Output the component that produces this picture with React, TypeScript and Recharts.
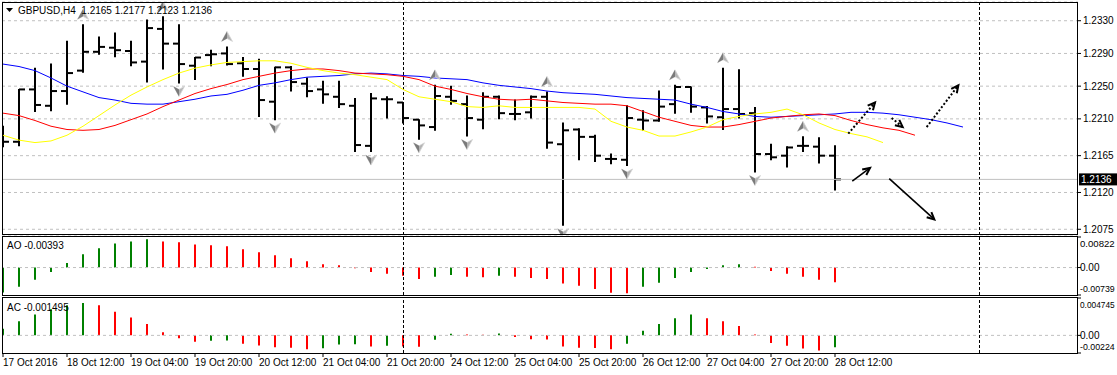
import React from 'react';
import {
  ComposedChart,
  Bar,
  Line,
  Scatter,
  XAxis,
  YAxis,
  ReferenceLine,
  CartesianGrid,
  Cell,
} from 'recharts';

const FONT = '"Liberation Sans", Arial, sans-serif';
const W = 1117;

const symbol = 'GBPUSD';
const timeframe = 'H4';

// ---------- price bars (index 0 = 17 Oct 2016 20:00, H4) ----------
const opens = [
  1.2182, 1.2182, 1.2246, 1.2226, 1.2244, 1.2269, 1.2292, 1.2297, 1.2293, 1.228,
  1.232, 1.2302, 1.2275, 1.2288, 1.229, 1.2278, 1.2271, 1.2231, 1.2273, 1.2253,
  1.2246, 1.2237, 1.2226, 1.2177, 1.2234, 1.223, 1.2209, 1.22, 1.2237, 1.2228,
  1.2209, 1.2237, 1.2216, 1.2218, 1.2237, 1.2179, 1.2197, 1.2188, 1.2161, 1.216,
  1.2209, 1.2208, 1.2228, 1.2249, 1.2224, 1.2212, 1.2222, 1.2217, 1.2167, 1.2165,
  1.2177, 1.2176, 1.2165,
];
const highs = [
  1.2201, 1.2246, 1.2272, 1.2277, 1.2305, 1.2325, 1.231, 1.2315, 1.2305, 1.2331,
  1.2335, 1.2325, 1.2285, 1.2294, 1.2298, 1.2285, 1.2283, 1.2273, 1.2274, 1.226,
  1.2256, 1.2256, 1.2235, 1.2241, 1.2237, 1.223, 1.2209, 1.2251, 1.225, 1.2238,
  1.2242, 1.2238, 1.2233, 1.2238, 1.2243, 1.2205, 1.2198, 1.219, 1.2167, 1.2226,
  1.222, 1.2244, 1.2251, 1.2249, 1.2225, 1.2272, 1.227, 1.2224, 1.2179, 1.2176,
  1.2188, 1.2187, 1.2177,
];
const lows = [
  1.2176, 1.2177, 1.2219, 1.222, 1.2228, 1.2267, 1.2289, 1.2286, 1.2275, 1.2255,
  1.2271, 1.2254, 1.2258, 1.2275, 1.2276, 1.2262, 1.2213, 1.2209, 1.2244, 1.2237,
  1.2229, 1.2224, 1.217, 1.217, 1.2211, 1.2205, 1.2185, 1.2196, 1.2228, 1.2189,
  1.2198, 1.221, 1.2209, 1.2211, 1.2174, 1.208, 1.216, 1.2158, 1.2155, 1.2153,
  1.2196, 1.2207, 1.2217, 1.2218, 1.2205, 1.2197, 1.2211, 1.2145, 1.216, 1.2151,
  1.217, 1.2156, 1.2123,
];
const closes = [
  1.2182, 1.2246, 1.2227, 1.2244, 1.2266, 1.2292, 1.2298, 1.2294, 1.2279, 1.2321,
  1.2302, 1.2277, 1.2285, 1.2289, 1.2277, 1.2271, 1.2233, 1.2273, 1.2255, 1.2244,
  1.224, 1.2228, 1.2178, 1.2235, 1.2234, 1.2211, 1.2202, 1.2238, 1.2232, 1.2211,
  1.2237, 1.2217, 1.2216, 1.2237, 1.2181, 1.2196, 1.2188, 1.2165, 1.2161, 1.2211,
  1.2208, 1.2225, 1.2249, 1.2225, 1.2213, 1.2222, 1.2216, 1.2167, 1.2163, 1.2175,
  1.2177, 1.2165, 1.2136,
];

// ---------- Alligator (shifted forward) ----------
const jaw = [
  1.2277, 1.2274, 1.2269, 1.226, 1.225, 1.2243, 1.2236, 1.2233, 1.2229, 1.2228,
  1.2228, 1.2231, 1.2234, 1.2238, 1.224, 1.2245, 1.2251, 1.2254, 1.2258, 1.2261,
  1.2262, 1.2263, 1.2265, 1.2266, 1.2265, 1.2263, 1.2262, 1.226, 1.2259, 1.2258,
  1.2254, 1.2251, 1.2249, 1.2247, 1.2244, 1.2242, 1.2241, 1.224, 1.2238, 1.2236,
  1.2235, 1.2234, 1.2233, 1.2228, 1.2224, 1.2219, 1.2216, 1.2213, 1.2212, 1.2213,
  1.2214, 1.2215, 1.2216, 1.2218, 1.2218, 1.2217, 1.2215, 1.2212, 1.2209, 1.2205,
  1.22,
];
const teeth = [
  1.2217, 1.2214, 1.2208, 1.2201, 1.2197, 1.2196, 1.2197, 1.2202, 1.2209, 1.2216,
  1.2225, 1.2233, 1.2241, 1.2247, 1.2252, 1.2258, 1.2262, 1.2266, 1.2269, 1.2271,
  1.2271, 1.2269, 1.2266, 1.2265, 1.2264, 1.2262, 1.2258, 1.225, 1.2246, 1.2241,
  1.2237, 1.2234, 1.2233, 1.2234, 1.2232, 1.223, 1.2229, 1.2228, 1.2228, 1.2226,
  1.2219, 1.2212, 1.2207, 1.2202, 1.22, 1.22, 1.2203, 1.2207, 1.2211, 1.2213,
  1.2215, 1.2216, 1.2214, 1.2208, 1.2203, 1.2199, 1.2196, 1.219,
];
const lips = [
  1.219, 1.2184, 1.2181, 1.2183, 1.219, 1.2201, 1.2214, 1.2227, 1.2239, 1.2249,
  1.2258, 1.2266, 1.2272, 1.2276, 1.2279, 1.228, 1.2281, 1.2281, 1.2278, 1.2273,
  1.2269, 1.2266, 1.2264, 1.2261, 1.2258, 1.2246, 1.2237, 1.2234, 1.2231, 1.2225,
  1.2224, 1.2226, 1.2224, 1.2224, 1.2224, 1.2224, 1.2224, 1.2222, 1.2207, 1.22,
  1.2196, 1.2189, 1.2189, 1.2194, 1.22, 1.2209, 1.2213, 1.2216, 1.2218, 1.2222,
  1.2215, 1.2205, 1.2197, 1.2192, 1.2188, 1.2181,
];

// ---------- Fractals (bar indices) ----------
const fractalUp = [5, 10, 14, 27, 34, 42, 45, 50];
const fractalDown = [11, 17, 23, 26, 29, 35, 39, 47];

// ---------- hand drawn arrows (bar index, price) ----------
const arrowFromIdx = [52.83, 55.54, 57.73, 53.08, 55.39];
const arrowFromPrice = [1.2192, 1.2211, 1.22, 1.2134, 1.2137];
const arrowToIdx = [54.5, 56.23, 59.71, 54.19, 58.21];
const arrowToPrice = [1.223, 1.22, 1.2251, 1.215, 1.2087];
const arrowDotted = [true, true, true, false, false];

// ---------- oscillators ----------
const aoValues = [
  -0.0067, -0.0052, -0.0033, -0.0012, 0.0012, 0.0036, 0.0052, 0.0065, 0.007, 0.0076,
  0.007, 0.0068, 0.0062, 0.006, 0.0057, 0.0049, 0.0041, 0.0033, 0.0025, 0.0017,
  0.0009, 0.0006, -0.0002, -0.0012, -0.0017, -0.0022, -0.0031, -0.0025, -0.002, -0.0025,
  -0.0026, -0.0022, -0.0025, -0.0028, -0.0031, -0.0043, -0.0049, -0.0058, -0.0068, -0.0069,
  -0.0052, -0.0041, -0.0028, -0.0012, -0.0004, 0.0006, 0.0009, 0.0002, -0.0009, -0.0017,
  -0.0025, -0.0033, -0.00393,
];
const acValues = [
  0.00084, 0.0018, 0.00264, 0.00332, 0.00384, 0.00412, 0.00384, 0.003, 0.00228, 0.00144,
  0.0004, -0.00036, -0.0008, -0.00068, -0.00064, -0.00108, -0.00128, -0.00152, -0.00156, -0.00176,
  -0.00164, -0.00116, -0.00112, -0.0014, -0.00132, -0.0014, -0.00144, -0.00056, 0.0002, 0.0001,
  0.00008, 0.00024, -0.0002, -0.00048, -0.00052, -0.0014, -0.00156, -0.0016, -0.00176, -0.00108,
  0.0006, 0.00144, 0.00216, 0.00264, 0.00216, 0.0018, 0.0012, 0.00012, -0.00096, -0.00132,
  -0.00168, -0.00192, -0.001495,
];

// ---------- axes ----------
const priceTicks = [1.2075, 1.212, 1.2165, 1.221, 1.225, 1.229, 1.233];
const priceDomain: [number, number] = [1.2068, 1.23529];
const aoTicks = [0.00822, 0, -0.00739];
const aoTickLabels = ['0.00822', '0.00', '-0.00739'];
const acTicks = [0.004745, 0, -0.00224];
const acTickLabels = ['0.004745', '0.00', '-0.00224'];
const xTickIndex = [0, 4, 8, 12, 16, 20, 24, 28, 32, 36, 40, 44, 48, 52];
const xTickLabels = [
  '17 Oct 2016', '18 Oct 12:00', '19 Oct 04:00', '19 Oct 20:00', '20 Oct 12:00',
  '21 Oct 04:00', '21 Oct 20:00', '24 Oct 12:00', '25 Oct 04:00', '25 Oct 20:00',
  '26 Oct 12:00', '27 Oct 04:00', '27 Oct 20:00', '28 Oct 12:00',
];
const gridIndex = [
  2, 4, 6, 8, 10, 12, 14, 16, 18, 20, 22, 24, 26, 28, 30, 32, 34, 36, 38, 40, 42,
  44, 46, 48, 50, 52, 54, 56, 58, 60, 62, 64, 66,
];
const separatorIndex = [25, 61];
const xDomain: [number, number] = [-0.0625, 67.1875];

// ---------- derived tables ----------
const nBars = closes.length;
const lastClose = closes[nBars - 1];

const mainRows = jaw.map((j, i) => ({
  i,
  hl: i < nBars ? [lows[i], highs[i]] : null,
  open: i < nBars ? opens[i] : null,
  high: i < nBars ? highs[i] : null,
  low: i < nBars ? lows[i] : null,
  close: i < nBars ? closes[i] : null,
  jaw: j,
  teeth: i < teeth.length ? teeth[i] : null,
  lips: i < lips.length ? lips[i] : null,
}));

const fractalRows = [
  ...fractalUp.map((i) => ({ i, v: highs[i], dir: 1 })),
  ...fractalDown.map((i) => ({ i, v: lows[i], dir: -1 })),
];

const histColor = (arr: number[], i: number) =>
  i === 0 || arr[i] >= arr[i - 1] ? '#008000' : '#ff0000';

const aoRows = aoValues.map((v, i) => ({ i, v, color: histColor(aoValues, i) }));
const acRows = acValues.map((v, i) => ({ i, v, color: histColor(acValues, i) }));

// approximate text width at 10px Liberation Sans
const textWidth = (s: string) =>
  s.split('').reduce((w, ch) => w + (ch === '.' ? 2.78 : ch === '-' ? 3.33 : 5.56), 0);

// ---------- shapes ----------
const OhlcShape = (props: any) => {
  const { x, y, width, height, payload } = props;
  if (!payload || payload.close == null || x == null || y == null) return <g />;
  const cx = x + width / 2;
  const top = Math.min(y, y + height);
  const bot = Math.max(y, y + height);
  const span = payload.high - payload.low || 1;
  const yOf = (v: number) => top + ((payload.high - v) / span) * (bot - top);
  const yo = yOf(payload.open);
  const yc = yOf(payload.close);
  return (
    <g stroke="#000" strokeWidth={2}>
      <line x1={cx} x2={cx} y1={top - 0.5} y2={bot + 0.5} />
      <line x1={cx - 6} x2={cx} y1={yo} y2={yo} />
      <line x1={cx} x2={cx + 6} y1={yc} y2={yc} />
    </g>
  );
};

const FractalShape = (props: any) => {
  const { cx, cy, payload } = props;
  if (cx == null || cy == null) return <g />;
  const up = payload.dir > 0;
  const c = up ? cy - 10 : cy + 8;
  const s = up ? 1 : -1;
  const d = `M${cx},${c - 5.5 * s} L${cx + 5.5},${c + 4.5 * s} L${cx},${c + 1.5 * s} L${cx - 5.5},${c + 4.5 * s} Z`;
  const dl = `M${cx},${c - 5.5 * s} L${cx},${c + 1.5 * s} L${cx - 5.5},${c + 4.5 * s} Z`;
  return (
    <g>
      <path d={d} fill="#b4b4b4" stroke="#d4d4d4" strokeWidth={0.8} />
      <path d={dl} fill="#7a7a7a" />
    </g>
  );
};

const makeArrowShape = (dotted: boolean) => (p: any) => {
  const { x1, y1, x2, y2 } = p;
  if ([x1, y1, x2, y2].some((v) => v == null || Number.isNaN(v))) return <g />;
  const a = Math.atan2(y2 - y1, x2 - x1);
  const L = 8;
  const h = 0.45;
  const ax = x2 - L * Math.cos(a - h);
  const ay = y2 - L * Math.sin(a - h);
  const bx = x2 - L * Math.cos(a + h);
  const by = y2 - L * Math.sin(a + h);
  return (
    <g stroke="#000" fill="none">
      <line
        x1={x1}
        y1={y1}
        x2={x2}
        y2={y2}
        strokeWidth={dotted ? 2 : 1.6}
        strokeDasharray={dotted ? '2 2' : undefined}
      />
      <polyline points={`${ax},${ay} ${x2},${y2} ${bx},${by}`} strokeWidth={2} />
    </g>
  );
};

const vLineShape = (color: string, dash: string) => (p: any) => {
  const { x1, y1, x2, y2 } = p;
  if (x1 == null) return <g />;
  return (
    <line
      x1={x1 + 0.5}
      x2={x2 + 0.5}
      y1={y1}
      y2={y2}
      stroke={color}
      strokeWidth={1}
      strokeDasharray={dash}
    />
  );
};

const PriceLabel = (props: any) => {
  const vb = props.viewBox || {};
  if (vb.x == null) return <g />;
  const x = vb.x + vb.width + 1;
  const y = vb.y;
  return (
    <g>
      <rect x={x} y={y - 6} width={38} height={12} fill="#000" />
      <text x={x + 2} y={y} dy="0.35em" fill="#fff" fontSize={10} fontFamily={FONT}>
        {lastClose.toFixed(4)}
      </text>
    </g>
  );
};

const makeYTick = (ticks: number[], labels: string[], offsets: number[]) => (props: any) => {
  const { x, y, payload } = props;
  const k = ticks.indexOf(payload.value);
  if (k < 0) return <g />;
  const label = labels[k];
  const room = W - 2 - x;
  const fs = Math.min(10, Math.floor((10 * room * 10) / textWidth(label)) / 10);
  return (
    <text
      x={x}
      y={y + offsets[k]}
      dy="0.35em"
      fontSize={fs}
      fill="#000"
      fontFamily={FONT}
      textAnchor="start"
    >
      {label}
    </text>
  );
};
const AoTick = makeYTick(aoTicks, aoTickLabels, [7, 0, -6]);
const AcTick = makeYTick(acTicks, acTickLabels, [7, 0, -6]);

const XTick = (props: any) => {
  const { x, y, payload } = props;
  const k = xTickIndex.indexOf(payload.value);
  if (k < 0) return <g />;
  return (
    <text x={x} y={y + 9} textAnchor="start" fontSize={10} fill="#000" fontFamily={FONT}>
      {xTickLabels[k]}
    </text>
  );
};

const vGen = (props: any) => {
  const sc = props?.xAxis?.scale;
  if (typeof sc !== 'function') return [];
  return gridIndex.map((i) => sc(i) + 0.5);
};

const panelBorder = (top: number, height: number): React.CSSProperties => ({
  position: 'absolute',
  left: 2,
  top,
  width: 1076,
  height,
  border: '1px solid #000',
  boxSizing: 'border-box',
  pointerEvents: 'none',
  zIndex: 5,
});

const separators = (key: string) =>
  separatorIndex.map((i) => (
    <ReferenceLine
      key={`${key}-sep-${i}`}
      x={i}
      ifOverflow="visible"
      shape={vLineShape('#000', '3 2')}
    />
  ));

const labelStyle = (left: number, top: number): React.CSSProperties => ({
  position: 'absolute',
  left,
  top,
  fontSize: 10,
  lineHeight: '12px',
  whiteSpace: 'pre',
  color: '#000',
  zIndex: 6,
});

export default function App() {
  const titleText = `${symbol},${timeframe}  ${opens[nBars - 1].toFixed(4)} ${highs[nBars - 1].toFixed(4)} ${lows[nBars - 1].toFixed(4)} ${closes[nBars - 1].toFixed(4)}`;
  return (
    <div
      style={{
        position: 'absolute',
        left: 0,
        top: 0,
        width: W,
        height: 375,
        background: '#fff',
        overflow: 'hidden',
        fontFamily: FONT,
      }}
    >
      {/* main price panel */}
      <div style={{ position: 'absolute', left: 0, top: 0 }}>
        <ComposedChart
          width={W}
          height={236}
          data={mainRows}
          margin={{ top: 2, right: 0, bottom: 1, left: 2 }}
        >
          <CartesianGrid
            stroke="#c0c0c0"
            strokeDasharray="3 3"
            verticalCoordinatesGenerator={vGen}
          />
          <XAxis dataKey="i" type="number" domain={xDomain} hide allowDataOverflow ticks={gridIndex} />
          <YAxis
            orientation="right"
            width={39}
            domain={priceDomain}
            allowDataOverflow
            ticks={priceTicks}
            interval={0}
            axisLine={false}
            tickSize={3}
            tickMargin={2}
            tickLine={{ stroke: '#000' }}
            tickFormatter={(v: number) => v.toFixed(4)}
            tick={{ fontSize: 10, fill: '#000', fontFamily: FONT }}
          />
          {separators('m')}
          <ReferenceLine y={lastClose} stroke="#c0c0c0" strokeWidth={1} label={PriceLabel} />
          <Line dataKey="jaw" stroke="#0000ff" strokeWidth={1} dot={false} isAnimationActive={false} />
          <Line dataKey="teeth" stroke="#ff0000" strokeWidth={1} dot={false} isAnimationActive={false} />
          <Line dataKey="lips" stroke="#ffff00" strokeWidth={1} dot={false} isAnimationActive={false} />
          <Bar dataKey="hl" barSize={10} shape={OhlcShape} isAnimationActive={false} />
          <Scatter data={fractalRows} dataKey="v" shape={FractalShape} isAnimationActive={false} />
          {arrowFromIdx.map((fx, k) => (
            <ReferenceLine
              key={`arrow-${k}`}
              segment={[
                { x: fx, y: arrowFromPrice[k] },
                { x: arrowToIdx[k], y: arrowToPrice[k] },
              ]}
              ifOverflow="visible"
              shape={makeArrowShape(arrowDotted[k])}
            />
          ))}
        </ComposedChart>
      </div>

      {/* AO panel */}
      <div style={{ position: 'absolute', left: 0, top: 236 }}>
        <ComposedChart width={W} height={60} data={aoRows} margin={{ top: 1, right: 0, bottom: 1, left: 2 }}>
          <CartesianGrid
            stroke="#c0c0c0"
            strokeDasharray="3 3"
            horizontal={false}
            verticalCoordinatesGenerator={vGen}
          />
          <XAxis dataKey="i" type="number" domain={xDomain} hide allowDataOverflow ticks={gridIndex} />
          <YAxis
            orientation="right"
            width={39}
            domain={[aoTicks[2], aoTicks[0]]}
            allowDataOverflow
            ticks={aoTicks}
            interval={0}
            axisLine={false}
            tickSize={3}
            tickMargin={-1}
            tickLine={{ stroke: '#000' }}
            tick={AoTick}
          />
          <ReferenceLine y={0} stroke="#c0c0c0" strokeDasharray="3 3" />
          {separators('ao')}
          <Bar dataKey="v" barSize={2} isAnimationActive={false}>
            {aoRows.map((r) => (
              <Cell key={`ao-${r.i}`} fill={r.color} />
            ))}
          </Bar>
        </ComposedChart>
      </div>

      {/* AC panel */}
      <div style={{ position: 'absolute', left: 0, top: 297 }}>
        <ComposedChart width={W} height={78} data={acRows} margin={{ top: 1, right: 0, bottom: 0, left: 2 }}>
          <CartesianGrid
            stroke="#c0c0c0"
            strokeDasharray="3 3"
            horizontal={false}
            verticalCoordinatesGenerator={vGen}
          />
          <XAxis
            dataKey="i"
            type="number"
            domain={xDomain}
            allowDataOverflow
            ticks={xTickIndex}
            interval={0}
            height={22}
            axisLine={false}
            tickSize={4}
            tickMargin={0}
            tickLine={{ stroke: '#000' }}
            tick={XTick}
          />
          <YAxis
            orientation="right"
            width={39}
            domain={[acTicks[2], acTicks[0]]}
            allowDataOverflow
            ticks={acTicks}
            interval={0}
            axisLine={false}
            tickSize={3}
            tickMargin={-1}
            tickLine={{ stroke: '#000' }}
            tick={AcTick}
          />
          <ReferenceLine y={0} stroke="#c0c0c0" strokeDasharray="3 3" />
          {separators('ac')}
          <Bar dataKey="v" barSize={2} isAnimationActive={false}>
            {acRows.map((r) => (
              <Cell key={`ac-${r.i}`} fill={r.color} />
            ))}
          </Bar>
        </ComposedChart>
      </div>

      {/* panel borders */}
      <div style={panelBorder(2, 233)} />
      <div style={panelBorder(236, 60)} />
      <div style={panelBorder(297, 57)} />

      {/* titles */}
      <svg width={8} height={5} style={{ position: 'absolute', left: 6, top: 8, zIndex: 6 }}>
        <polygon points="0,0 7,0 3.5,4" fill="#000" />
      </svg>
      <div style={labelStyle(18, 5)}>{titleText}</div>
      <div style={labelStyle(7, 240)}>{`AO ${aoValues[nBars - 1].toFixed(5)}`}</div>
      <div style={labelStyle(7, 302)}>{`AC ${acValues[nBars - 1].toFixed(6)}`}</div>
    </div>
  );
}
